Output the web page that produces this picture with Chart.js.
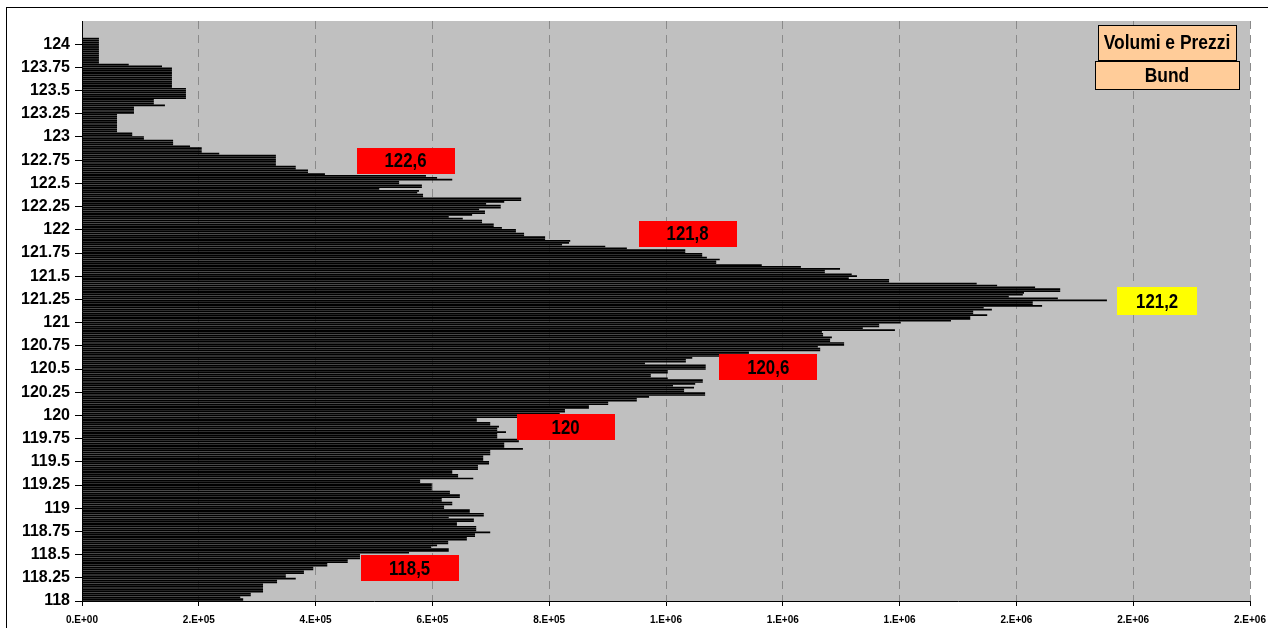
<!DOCTYPE html>
<html>
<head>
<meta charset="utf-8">
<script src="https://cdn.jsdelivr.net/npm/chart.js@4.4.1/dist/chart.umd.min.js"></script>
<style>
  html, body { margin: 0; padding: 0; background: #fff; }
</style>
</head>
<body>
<canvas id="volumeProfile" width="1268" height="628"></canvas>
<script>
// volume traded at each price level, from 124.10 down to 118.00 (step 0.02)
var volumes = [
  0, 0, 29000, 29000, 29000, 29000, 29000, 29000, 29000, 29000,
  29000, 29000, 29000, 29000, 29000, 29000, 80000, 137000, 154000, 154000,
  154000, 154000, 154000, 154000, 154000, 154000, 154000, 154000, 154000, 178000,
  178000, 178000, 178000, 178000, 178000, 123000, 123000, 123000, 142000, 89000,
  89000, 89000, 89000, 60000, 60000, 60000, 60000, 60000, 60000, 60000,
  60000, 60000, 60000, 86000, 86000, 106000, 106000, 156000, 156000, 156000,
  185000, 205000, 205000, 205000, 235000, 332000, 332000, 332000, 332000, 332000,
  332000, 366000, 366000, 387000, 387000, 416000, 589000, 608000, 634000, 543000,
  543000, 582000, 582000, 509000, 577000, 574000, 584000, 584000, 752000, 752000,
  723000, 692000, 717000, 717000, 680000, 690000, 690000, 668000, 628000, 652000,
  685000, 685000, 705000, 705000, 719000, 743000, 743000, 757000, 757000, 793000,
  793000, 836000, 834000, 822000, 896000, 933000, 1033000, 1033000, 1062000, 1062000,
  1070000, 1092000, 1086000, 1086000, 1164000, 1231000, 1298000, 1272000, 1272000, 1318000,
  1327000, 1313000, 1382000, 1382000, 1532000, 1567000, 1632000, 1675000, 1675000, 1613000,
  1611000, 1587000, 1671000, 1755000, 1628000, 1628000, 1644000, 1544000, 1558000, 1526000,
  1526000, 1550000, 1521000, 1521000, 1488000, 1402000, 1365000, 1365000, 1337000, 1392000,
  1267000, 1269000, 1269000, 1284000, 1281000, 1281000, 1305000, 1305000, 1260000, 1264000,
  1264000, 1142000, 1142000, 1110000, 1045000, 1034000, 1034000, 964000, 1068000, 1068000,
  1068000, 1003000, 1003000, 974000, 974000, 1003000, 1063000, 1063000, 1050000, 1012000,
  1048000, 1031000, 1031000, 1067000, 1067000, 971000, 950000, 950000, 901000, 901000,
  868000, 868000, 827000, 827000, 818000, 784000, 750000, 676000, 676000, 699000,
  699000, 714000, 711000, 711000, 726000, 711000, 711000, 711000, 748000, 748000,
  723000, 723000, 723000, 755000, 699000, 699000, 699000, 687000, 687000, 687000,
  697000, 697000, 678000, 678000, 678000, 634000, 634000, 644000, 644000, 670000,
  579000, 579000, 599000, 599000, 599000, 599000, 630000, 630000, 647000, 647000,
  616000, 616000, 634000, 634000, 620000, 620000, 664000, 664000, 688000, 688000,
  628000, 671000, 671000, 642000, 642000, 675000, 675000, 675000, 699000, 673000,
  673000, 659000, 659000, 627000, 627000, 608000, 598000, 628000, 628000, 560000,
  476000, 476000, 476000, 455000, 455000, 420000, 420000, 396000, 396000, 380000,
  380000, 349000, 349000, 366000, 334000, 334000, 310000, 310000, 310000, 310000,
  310000, 289000, 289000, 271000, 276000, 276000
];

// price ladder (categories)
var priceTop = 124.10;
var priceStep = 0.02;
var prices = [];
for (var k = 0; k < volumes.length; k++) {
  prices.push(Math.round((priceTop - priceStep * k) * 100) / 100);
}

// labelled levels: text, price (box centre) and volume (box centre)
var noteText = ['122,6', '121,8', '121,2', '120,6', '120', '118,5'];
var notePrice = [122.745, 121.96, 121.23, 120.52, 119.87, 118.355];
var noteVolume = [554000, 1037000, 1841000, 1175000, 828000, 561000];
var noteFill = ['#ff0000', '#ff0000', '#ffff00', '#ff0000', '#ff0000', '#ff0000'];

var titleLines = ['Volumi e Prezzi', 'Bund'];

var FONT = '"Liberation Sans", Arial, sans-serif';

// excel "0.E+00" number format
function excelSci(v) {
  var s = Number(v).toExponential(0);
  var parts = s.split('e');
  var exp = parseInt(parts[1], 10);
  var sign = exp < 0 ? '-' : '+';
  var e = String(Math.abs(exp));
  if (e.length < 2) e = '0' + e;
  return parts[0] + '.E' + sign + e;
}

function condensedText(ctx, text, x, y, factor) {
  ctx.save();
  ctx.translate(x, y);
  ctx.scale(factor, 1);
  ctx.fillText(text, 0, 0);
  ctx.restore();
}

var plotBackground = {
  id: 'plotBackground',
  beforeDraw: function (chart) {
    var ctx = chart.ctx, a = chart.chartArea;
    ctx.save();
    ctx.fillStyle = '#ffffff';
    ctx.fillRect(0, 0, chart.width, chart.height);
    ctx.fillStyle = '#c0c0c0';
    ctx.fillRect(a.left, a.top, a.right - a.left, a.bottom - a.top);
    ctx.restore();
  }
};

var notesAndTitle = {
  id: 'notesAndTitle',
  afterDraw: function (chart) {
    var ctx = chart.ctx;
    var xs = chart.scales.x, ys = chart.scales.y;
    ctx.save();
    ctx.textAlign = 'center';
    ctx.textBaseline = 'middle';

    // price notes
    ctx.font = 'bold 20px ' + FONT;
    for (var i = 0; i < noteText.length; i++) {
      var cx = xs.getPixelForValue(noteVolume[i]);
      var cy = ys.getPixelForValue(notePrice[i]);
      var w = noteFill[i] === '#ffff00' ? 80 : 98;
      var h = noteFill[i] === '#ffff00' ? 28 : 26;
      ctx.fillStyle = noteFill[i];
      ctx.fillRect(Math.round(cx - w / 2), Math.round(cy - h / 2), w, h);
      ctx.fillStyle = '#000';
      condensedText(ctx, noteText[i], cx, cy + 1, 0.84);
    }

    // title boxes
    var boxes = [[1098, 25, 138, 35], [1095, 61, 144, 28]];
    ctx.font = 'bold 21px ' + FONT;
    for (var j = 0; j < boxes.length; j++) {
      var b = boxes[j];
      ctx.fillStyle = '#ffcc99';
      ctx.fillRect(b[0], b[1], b[2], b[3]);
      ctx.strokeStyle = '#000';
      ctx.lineWidth = 1;
      ctx.strokeRect(b[0] + 0.5, b[1] + 0.5, b[2], b[3]);
      ctx.fillStyle = '#000';
      condensedText(ctx, titleLines[j], b[0] + b[2] / 2, b[1] + b[3] / 2 + 1, 0.83);
    }

    // outer frame
    ctx.strokeStyle = '#000';
    ctx.strokeRect(6.5, 7.5, 1400, 800);
    ctx.restore();
  }
};

new Chart(document.getElementById('volumeProfile').getContext('2d'), {
  type: 'bar',
  data: {
    datasets: [{
      label: 'Volume',
      data: prices.map(function (p, i) { return { x: volumes[i], y: p }; }),
      backgroundColor: '#000000',
      borderWidth: 0,
      barPercentage: 1,
      categoryPercentage: 0.92
    }]
  },
  options: {
    indexAxis: 'y',
    responsive: false,
    animation: false,
    layout: { autoPadding: false, padding: { left: 0, top: 21, right: 18, bottom: 0 } },
    plugins: {
      legend: { display: false },
      tooltip: { enabled: false }
    },
    scales: {
      x: {
        type: 'linear',
        min: 0,
        max: 2000000,
        afterFit: function (s) { s.height = 27; s.paddingLeft = 0; s.paddingRight = 0; },
        ticks: {
          stepSize: 200000,
          autoSkip: false,
          maxRotation: 0,
          padding: 8,
          color: '#000',
          font: { family: FONT, size: 10, weight: 'bold' },
          callback: function (v) { return excelSci(v); }
        },
        grid: { color: '#8a8a8a', tickColor: '#000', tickLength: 5 },
        border: { color: '#000', dash: [8, 6] }
      },
      y: {
        type: 'linear',
        min: 118,
        max: 124.25,
        offset: false,
        afterFit: function (s) { s.width = 82; s.paddingTop = 0; s.paddingBottom = 0; },
        afterBuildTicks: function (s) {
          s.ticks = s.ticks.filter(function (t) { return t.value <= 124.001; });
        },
        ticks: {
          stepSize: 0.25,
          maxTicksLimit: 100,
          autoSkip: false,
          padding: 5,
          color: '#000',
          font: { family: FONT, size: 16, weight: 'bold' },
          callback: function (v) { return String(Math.round(v * 100) / 100); }
        },
        grid: { offset: false, drawOnChartArea: false, tickLength: 7, color: '#000', tickColor: '#000' },
        border: { color: '#000' }
      }
    }
  },
  plugins: [plotBackground, notesAndTitle]
});
</script>
</body>
</html>
